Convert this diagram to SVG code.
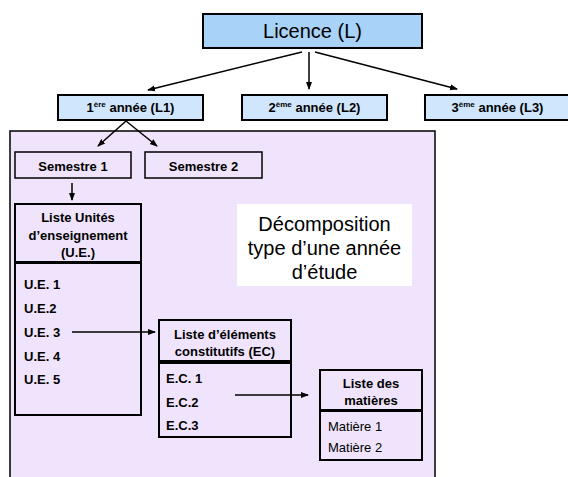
<svg xmlns="http://www.w3.org/2000/svg" width="568" height="477" viewBox="0 0 568 477">
<defs>
<marker id="ah" markerWidth="8" markerHeight="8" refX="7" refY="4" orient="auto" markerUnits="userSpaceOnUse">
<path d="M0,1 L8,4 L0,7 Z" fill="#000"/>
</marker>
<style>
.b{fill:#a8d2f8;stroke:#000;stroke-width:2}
.y{fill:#cfe6fc;stroke:#000;stroke-width:2}
.p{fill:#efe4fb;stroke:#000;stroke-width:1.5}
.h{fill:#efe4fb;stroke:#000;stroke-width:2}
text{font-family:"Liberation Sans",Arial,sans-serif;fill:#000}
.t{font-size:13px;font-weight:bold;text-anchor:middle}
.i{font-size:13px;font-weight:bold}
.n{font-size:13px}
.s{font-size:8px;font-weight:bold}
.g{font-size:20px;text-anchor:middle}
.c{stroke:#000;stroke-width:1.5;fill:none;marker-end:url(#ah)}
</style>
</defs>
<rect width="568" height="477" fill="#fff"/>
<g id="panel"><rect x="10" y="131" width="425" height="360" fill="#efe4fb" stroke="#000" stroke-width="1.5"/></g>
<g id="licence"><rect class="b" x="203" y="14" width="219" height="34"/><text class="g" x="312.5" y="38">Licence (L)</text></g>
<g id="l1"><rect class="y" x="58" y="95" width="145" height="25"/><text class="t" x="130.5" y="112">1<tspan class="s" dy="-5">ère</tspan><tspan dy="5"> année (L1)</tspan></text></g>
<g id="l2"><rect class="y" x="242" y="95" width="145" height="25"/><text class="t" x="314.5" y="112">2<tspan class="s" dy="-5">ème</tspan><tspan dy="5"> année (L2)</tspan></text></g>
<g id="l3"><rect class="y" x="425" y="95" width="145" height="25"/><text class="t" x="497.5" y="112">3<tspan class="s" dy="-5">ème</tspan><tspan dy="5"> année (L3)</tspan></text></g>
<g id="s1"><rect class="p" x="15" y="152" width="116" height="26"/><text class="t" x="73" y="171">Semestre 1</text></g>
<g id="s2"><rect class="p" x="145" y="152" width="117" height="26"/><text class="t" x="203.5" y="171">Semestre 2</text></g>
<g id="ue"><rect class="h" x="15" y="204" width="126" height="58"/>
<text class="t" x="78" y="222">Liste Unités</text><text class="t" x="78" y="240">d’enseignement</text><text class="t" x="78" y="257">(U.E.)</text>
<rect class="h" x="15" y="263" width="126" height="152"/>
<text class="i" x="24" y="289">U.E. 1</text><text class="i" x="24" y="313">U.E.2</text><text class="i" x="24" y="337">U.E. 3</text><text class="i" x="24" y="361">U.E. 4</text><text class="i" x="24" y="384">U.E. 5</text></g>
<g id="note"><rect x="237" y="204" width="175" height="82" fill="#fff"/>
<text class="g" x="324.5" y="231">Décomposition</text>
<text class="g" x="324.5" y="255">type d’une année</text>
<text class="g" x="324.5" y="279">d’étude</text></g>
<g id="ec"><rect class="h" x="159" y="320" width="132" height="41"/>
<text class="t" x="225" y="339">Liste d’éléments</text><text class="t" x="225" y="356">constitutifs (EC)</text>
<rect class="h" x="159" y="363" width="132" height="74"/>
<text class="i" x="166" y="383">E.C. 1</text><text class="i" x="166" y="407">E.C.2</text><text class="i" x="166" y="430">E.C.3</text></g>
<g id="mat"><rect class="h" x="320" y="370" width="102" height="40"/>
<text class="t" x="371" y="388">Liste des</text><text class="t" x="371" y="405">matières</text>
<rect class="h" x="320" y="411" width="102" height="49"/>
<text class="n" x="328" y="431">Matière 1</text><text class="n" x="328" y="452">Matière 2</text></g>
<g id="connectors">
<line class="c" x1="302" y1="52" x2="148" y2="90"/>
<line class="c" x1="309" y1="52" x2="309" y2="89"/>
<line class="c" x1="315" y1="52" x2="457" y2="89"/>
<line class="c" x1="126" y1="121" x2="98" y2="146"/>
<line class="c" x1="126" y1="121" x2="157" y2="146"/>
<line class="c" x1="72" y1="183" x2="72" y2="200"/>
<line class="c" x1="72" y1="332" x2="155" y2="332"/>
<line class="c" x1="235" y1="395" x2="308" y2="395"/>
</g>
</svg>
